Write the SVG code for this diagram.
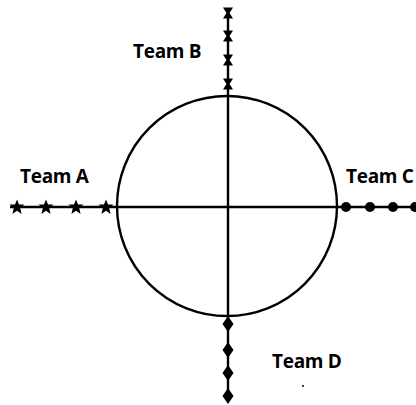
<svg xmlns="http://www.w3.org/2000/svg" width="416" height="405" viewBox="0 0 416 405">
<defs>
<style>
.ln{stroke:#000;stroke-width:2.4;fill:none}
.lbl{font-family:"Open Sans","Liberation Sans",sans-serif;font-weight:bold;font-size:19px;fill:#000;letter-spacing:-0.3px}
</style>
<path id="star" d="M0,-7.5 L2,-2.5 L7.5,-2.4 L3.2,1.1 L4.6,6.9 L0,3.8 L-4.6,6.9 L-3.2,1.1 L-7.5,-2.4 L-2,-2.5 Z" fill="#000"/>
<path id="bow" d="M-5,-5.5 L5,-5.5 L1.5,0 L5,5.5 L-5,5.5 L-1.5,0 Z" fill="#000"/>
<path id="dia" d="M0,-8 L5.5,0 L0,8 L-5.5,0 Z" fill="#000"/>
</defs>
<rect width="416" height="405" fill="#fff"/>
<g id="connectors">
<circle class="ln" cx="227" cy="206" r="110"/>
<line class="ln" x1="10" y1="207" x2="416" y2="207"/>
<line class="ln" x1="228" y1="8" x2="228" y2="400"/>
</g>
<g id="teamA">
<text class="lbl" x="20" y="183">Team A</text>
<use href="#star" x="17" y="207"/><use href="#star" x="46" y="207"/><use href="#star" x="76" y="207"/><use href="#star" x="106" y="207"/>
</g>
<g id="teamB">
<text class="lbl" x="133" y="58">Team B</text>
<use href="#bow" x="228" y="13"/><use href="#bow" x="228" y="36"/><use href="#bow" x="228" y="60"/><use href="#bow" x="228" y="84"/>
</g>
<g id="teamC">
<text class="lbl" x="346" y="183">Team C</text>
<circle cx="346" cy="207" r="5"/><circle cx="370" cy="207" r="5"/><circle cx="393" cy="207" r="5"/><circle cx="415" cy="207" r="5"/>
</g>
<g id="teamD">
<text class="lbl" x="272" y="368">Team D</text>
<use href="#dia" x="228" y="324"/><use href="#dia" x="228" y="350"/><use href="#dia" x="228" y="373"/><use href="#dia" x="228" y="396"/>
<circle cx="303" cy="386" r="1"/>
</g>
</svg>
